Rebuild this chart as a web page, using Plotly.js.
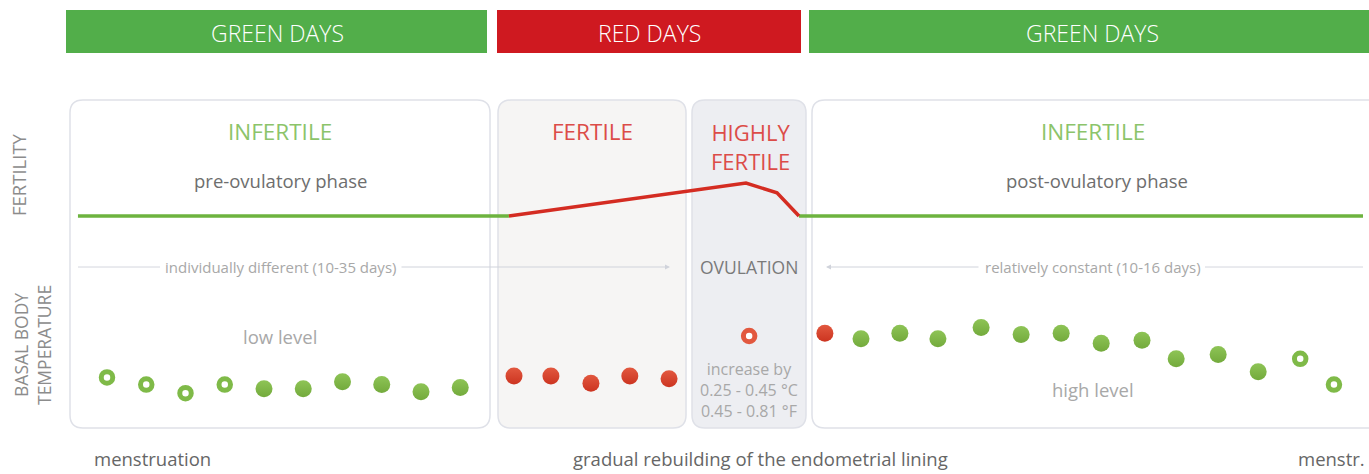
<!DOCTYPE html>
<html>
<head>
<meta charset="utf-8">
<script src="https://cdn.plot.ly/plotly-3.0.1.min.js"></script>
<style>html,body{margin:0;padding:0;background:#fff}#chart{width:1369px;height:474px}</style>
</head>
<body>
<div id="chart"></div>
<script>
// ---------- data ----------
// cycle position (day units) and basal body temperature (°C, schematic)
const preDays   = [1, 2, 3, 4, 5, 6, 7, 8, 9, 10];
const preTemps  = [36.56, 36.51, 36.45, 36.51, 36.48, 36.48, 36.53, 36.51, 36.46, 36.49];
const preRing   = [true, true, true, true, false, false, false, false, false, false];

const fertDays  = [11.37, 12.31, 13.33, 14.32, 15.32];
const fertTemps = [36.57, 36.57, 36.52, 36.57, 36.55];

const ovuDays   = [17.36];
const ovuTemps  = [36.85];

const postDays  = [19.29, 20.21, 21.20, 22.17, 23.27, 24.29, 25.31, 26.33, 27.37, 28.24, 29.31, 30.33, 31.40, 32.26];
const postTemps = [36.87, 36.83, 36.87, 36.83, 36.91, 36.86, 36.87, 36.80, 36.82, 36.69, 36.72, 36.60, 36.69, 36.51];
const postRed   = [true, false, false, false, false, false, false, false, false, false, false, false, false, false];
const postRing  = [false, false, false, false, false, false, false, false, false, false, false, false, true, true];

// fertility level (0 = infertile, 1 = peak)
const fertLineDaysPre  = [0.26, 11.24];
const fertLinePre      = [0, 0];
const fertLineDaysPeak = [11.24, 17.28, 18.07, 18.63];
const fertLinePeak     = [0, 1.0, 0.70, 0];
const fertLineDaysPost = [18.63, 33.0];
const fertLinePost     = [0, 0];

const bandLabels  = ["GREEN DAYS", "RED DAYS", "GREEN DAYS"];
const phaseTitles = ["INFERTILE", "FERTILE", "HIGHLY<br>FERTILE", "INFERTILE"];

// ---------- layout helpers ----------
const W = 1369, H = 474;
const X = p => p / W;
const Y = p => 1 - p / H;

const GREEN = '#6db33f', RED = '#d42c22';
const DOT_GREEN = '#8ec456', DOT_GREEN_D = '#73aa3c';
const DOT_RED = '#e2583f', DOT_RED_D = '#cc3420';

function roundRect(x0, y0, x1, y1, r) {
  const p = (x, y) => X(x).toFixed(5) + ',' + Y(y).toFixed(5);
  return 'M' + p(x0 + r, y0) + ' L' + p(x1 - r, y0) + ' Q' + p(x1, y0) + ' ' + p(x1, y0 + r) +
    ' L' + p(x1, y1 - r) + ' Q' + p(x1, y1) + ' ' + p(x1 - r, y1) +
    ' L' + p(x0 + r, y1) + ' Q' + p(x0, y1) + ' ' + p(x0, y1 - r) +
    ' L' + p(x0, y0 + r) + ' Q' + p(x0, y0) + ' ' + p(x0 + r, y0) + ' Z';
}

// ---------- traces ----------
function dotTrace(xs, ys, ring, red) {
  const fill = red ? DOT_RED : DOT_GREEN;
  const dark = red ? DOT_RED_D : DOT_GREEN_D;
  return {
    type: 'scatter', mode: 'markers', x: xs, y: ys, xaxis: 'x', yaxis: 'y',
    hoverinfo: 'skip',
    marker: ring ? {
      size: 11.5, color: '#ffffff', line: {color: red ? DOT_RED : '#7fba48', width: 5}
    } : {
      size: 17, color: fill, line: {width: 0},
      gradient: {type: 'vertical', color: dark}
    }
  };
}
function pick(arr, mask, val) { return arr.filter((_, i) => mask[i] === val); }

const postGreenMask = postDays.map((_, i) => !postRed[i] && !postRing[i]);

const traces = [
  // fertility curve
  {type: 'scatter', mode: 'lines', x: fertLineDaysPre, y: fertLinePre, xaxis: 'x', yaxis: 'y2',
   line: {color: GREEN, width: 3.5}, hoverinfo: 'skip'},
  {type: 'scatter', mode: 'lines', x: fertLineDaysPost, y: fertLinePost, xaxis: 'x', yaxis: 'y2',
   line: {color: GREEN, width: 3.5}, hoverinfo: 'skip'},
  {type: 'scatter', mode: 'lines', x: fertLineDaysPeak, y: fertLinePeak, xaxis: 'x', yaxis: 'y2',
   line: {color: RED, width: 3.5}, hoverinfo: 'skip'},
  // temperature dots
  dotTrace(pick(preDays, preRing, true), pick(preTemps, preRing, true), true, false),
  dotTrace(pick(preDays, preRing, false), pick(preTemps, preRing, false), false, false),
  dotTrace(fertDays, fertTemps, false, true),
  dotTrace(ovuDays, ovuTemps, true, true),
  dotTrace(pick(postDays, postRed, true), pick(postTemps, postRed, true), false, true),
  dotTrace(pick(postDays, postGreenMask, true), pick(postTemps, postGreenMask, true), false, false),
  dotTrace(pick(postDays, postRing, true), pick(postTemps, postRing, true), true, false)
];

// ---------- shapes ----------
const BORDER = '#dfe1e8';
const shapes = [
  // top bands
  {type: 'rect', xref: 'paper', yref: 'paper', x0: X(66), x1: X(487), y0: Y(53), y1: Y(10), fillcolor: '#52ae4a', line: {width: 0}},
  {type: 'rect', xref: 'paper', yref: 'paper', x0: X(497), x1: X(801), y0: Y(53), y1: Y(10), fillcolor: '#cf1920', line: {width: 0}},
  {type: 'rect', xref: 'paper', yref: 'paper', x0: X(809), x1: X(1369), y0: Y(53), y1: Y(10), fillcolor: '#52ae4a', line: {width: 0}},
  // panels
  {type: 'path', xref: 'paper', yref: 'paper', layer: 'below', path: roundRect(70, 100, 490, 428, 13), fillcolor: '#ffffff', line: {color: BORDER, width: 1.5}},
  {type: 'path', xref: 'paper', yref: 'paper', layer: 'below', path: roundRect(498, 100, 686, 428, 13), fillcolor: '#f6f5f4', line: {color: BORDER, width: 1.5}},
  {type: 'path', xref: 'paper', yref: 'paper', layer: 'below', path: roundRect(692, 100, 806, 428, 13), fillcolor: '#edeef2', line: {color: BORDER, width: 1.5}},
  {type: 'path', xref: 'paper', yref: 'paper', layer: 'below', path: roundRect(812, 100, 1382, 428, 13), fillcolor: '#ffffff', line: {color: BORDER, width: 1.5}},
  // duration guide lines
  {type: 'line', xref: 'paper', yref: 'paper', x0: X(78), x1: X(160), y0: Y(267), y1: Y(267), line: {color: '#d4d6de', width: 1}},
  {type: 'line', xref: 'paper', yref: 'paper', x0: X(1205), x1: X(1363), y0: Y(267), y1: Y(267), line: {color: '#d4d6de', width: 1}}
];

// ---------- annotations ----------
const FONT = '"Open Sans", "Noto Sans", sans-serif';
function txt(text, x, y, size, color, extra) {
  return Object.assign({xref: 'paper', yref: 'paper', x: X(x), y: Y(y), text: text, showarrow: false,
    xanchor: 'center', yanchor: 'middle', font: {family: FONT, size: size, color: color}}, extra || {});
}
const bandFont = {family: FONT, size: 23, color: '#ffffff', weight: 300};
const annotations = [
  txt(bandLabels[0], 277, 33, 23, '#ffffff', {font: bandFont}),
  txt(bandLabels[1], 649, 33, 23, '#ffffff', {font: bandFont}),
  txt(bandLabels[2], 1092, 33, 23, '#ffffff', {font: bandFont}),

  txt(phaseTitles[0], 280, 131, 22.5, '#8cc46a'),
  txt(phaseTitles[1], 592, 131, 22.5, '#dc4c48'),
  txt(phaseTitles[2], 750, 146, 22, '#dc4c48'),
  txt(phaseTitles[3], 1093, 131, 22.5, '#8cc46a'),

  txt('pre-ovulatory phase', 280, 180, 18.5, '#6e6e6e'),
  txt('post-ovulatory phase', 1097, 180, 18.5, '#6e6e6e'),

  txt('FERTILITY', 18, 175, 18.5, '#8c8c8c', {textangle: -90}),
  txt('BASAL BODY<br>TEMPERATURE', 32, 345, 17.5, '#8c8c8c', {textangle: -90}),

  txt('individually different (10-35 days)', 280, 267, 15, '#a8a8a8'),
  txt('OVULATION', 749, 267, 17.5, '#7a7a7a'),
  txt('relatively constant (10-16 days)', 1093, 267, 15, '#a8a8a8'),

  txt('low level', 280, 336, 18.5, '#a8a8a8'),
  txt('high level', 1093, 389, 18.5, '#a8a8a8'),
  txt('increase by<br>0.25 - 0.45 °C<br>0.45 - 0.81 °F', 749, 390, 16, '#a8a8a8'),

  txt('menstruation', 92, 458, 18.5, '#666666', {xanchor: 'left'}),
  txt('gradual rebuilding of the endometrial lining', 760, 458, 18.5, '#666666'),
  txt('menstr.', 1367, 458, 18.5, '#666666', {xanchor: 'right'}),

  // arrows
  {xref: 'paper', yref: 'paper', x: X(670), y: Y(267), ax: -270, ay: 0, text: '', showarrow: true,
   arrowhead: 2, arrowsize: 1, arrowwidth: 1, arrowcolor: '#d0d3db'},
  {xref: 'paper', yref: 'paper', x: X(826), y: Y(267), ax: 154, ay: 0, text: '', showarrow: true,
   arrowhead: 2, arrowsize: 1, arrowwidth: 1, arrowcolor: '#d0d3db'}
];

// ---------- axes ----------
// day axis: day 1 at 107px, 39.25 px/day
const PX_PER_DAY = 39.25, DAY1_PX = 107;
const xRange = [1 - DAY1_PX / PX_PER_DAY, 1 + (W - DAY1_PX) / PX_PER_DAY];
// temperature axis: 36.5 °C at 386px, 0.007 °C/px
const T0 = 36.5, T0_PX = 386, C_PER_PX = 0.007;
const yRange = [T0 - (H - T0_PX) * C_PER_PX, T0 + T0_PX * C_PER_PX];
// fertility axis: 0 at 216px, 1 at 183px
const F0_PX = 216, F_PX = 33;
const y2Range = [(F0_PX - H) / F_PX, F0_PX / F_PX];

const layout = {
  width: W, height: H,
  margin: {l: 0, r: 0, t: 0, b: 0},
  paper_bgcolor: '#ffffff', plot_bgcolor: 'rgba(0,0,0,0)',
  showlegend: false, hovermode: false,
  xaxis: {range: xRange, visible: false, fixedrange: true},
  yaxis: {range: yRange, visible: false, fixedrange: true},
  yaxis2: {range: y2Range, visible: false, overlaying: 'y', fixedrange: true},
  shapes: shapes,
  annotations: annotations
};

Plotly.newPlot('chart', traces, layout, {displayModeBar: false, staticPlot: true});
</script>
</body>
</html>
